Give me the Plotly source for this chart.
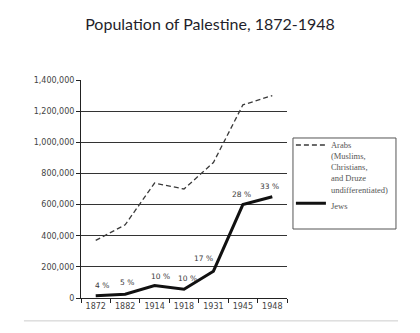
import plotly.graph_objects as go

years = ["1872", "1882", "1914", "1918", "1931", "1945", "1948"]
arabs = [370000, 470000, 738000, 700000, 870000, 1240000, 1300000]
jews = [15000, 24000, 80000, 56000, 172000, 600000, 650000]
jew_share = ["4 %", "5 %", "10 %", "10 %", "17 %", "28 %", "33 %"]

label_dx = [6, 2, 6, 3, -10, -1, -3]
label_dy = [10, 12, 9, 11, 13, 10, 10]

fig = go.Figure()
fig.add_trace(go.Scatter(
    x=years, y=arabs, mode="lines",
    name="Arabs<br>(Muslims,<br>Christians,<br>and Druze<br>undifferentiated)",
    line=dict(color="#3a3a3a", width=1.3, dash="5px,3px"),
))
fig.add_trace(go.Scatter(
    x=years, y=jews, mode="lines",
    name="Jews",
    line=dict(color="#111111", width=3),
))

for i, (v, t) in enumerate(zip(jews, jew_share)):
    fig.add_annotation(
        x=i, y=v, xref="x", yref="y", text=t, showarrow=False,
        xshift=label_dx[i], yshift=label_dy[i], yanchor="middle",
        font=dict(family="DejaVu Sans", size=7.5, color="#3a3a3a"),
    )

# bottom separator line
fig.add_shape(type="line", xref="paper", yref="paper",
              x0=-0.277, x1=1.539, y0=-0.105, y1=-0.105,
              line=dict(color="#cccccc", width=1))
# legend frame
fig.add_shape(type="rect", xref="paper", yref="paper",
              x0=1.029, x1=1.529, y0=0.3165, y1=0.734,
              line=dict(color="#555555", width=1))

fig.update_layout(
    width=420, height=333,
    margin=dict(l=81, r=133, t=80, b=35),
    paper_bgcolor="white", plot_bgcolor="white",
    title=dict(text="Population of Palestine, 1872-1948",
               x=0.5, xref="container", xanchor="center",
               y=1 - 24 / 333, yref="container", yanchor="middle",
               font=dict(family="Lato", size=16, color="#1f1f2b")),
    showlegend=True,
    legend=dict(
        x=1.019, y=0.757, xanchor="left", yanchor="top",
        borderwidth=0, bgcolor="rgba(0,0,0,0)",
        font=dict(family="Liberation Serif", size=8.5, color="#555555"),
        valign="top", tracegroupgap=0,
    ),
    xaxis=dict(
        type="category", showgrid=False, showline=True, linecolor="#222222",
        linewidth=1, ticks="outside", tickson="boundaries", ticklen=4,
        tickcolor="#222222",
        tickfont=dict(family="DejaVu Sans", size=8, color="#444444"),
        range=[-0.5, 6.5], fixedrange=True,
    ),
    yaxis=dict(
        range=[0, 1400000], dtick=200000, tickformat=",",
        showgrid=True, gridcolor="#333333", gridwidth=1,
        showline=True, linecolor="#222222", linewidth=1,
        ticks="outside", ticklen=4, tickcolor="#222222",
        zeroline=False,
        tickfont=dict(family="DejaVu Sans", size=8, color="#444444"),
    ),
)

fig.write_html("out.html")
